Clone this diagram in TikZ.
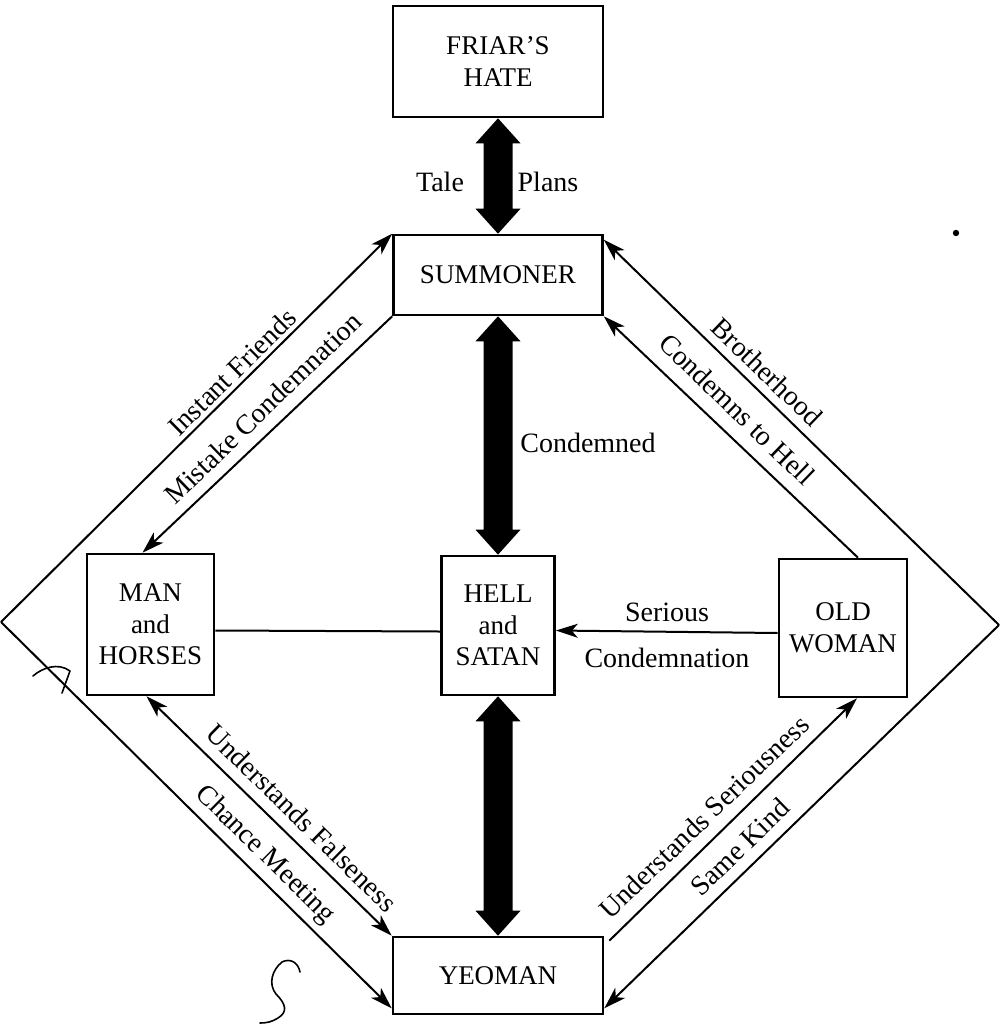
\documentclass[tikz,border=0pt]{standalone}
\usepackage{fontspec}
\setmainfont{Liberation Serif}
\usetikzlibrary{arrows.meta,calc}
\begin{document}
\begin{tikzpicture}[x=0.5pt,y=-0.5pt,
  box/.style={draw, line width=1.3pt, inner sep=0pt, align=center,
    font=\fontsize{13.5}{15.75}\selectfont},
  conn/.style={line width=1pt},
  onehead/.style={-{Stealth[length=11pt,width=7pt,inset=3pt]}},
  twoheads/.style={{Stealth[length=11pt,width=7pt,inset=3pt]}-{Stealth[length=11pt,width=7pt,inset=3pt]}},
  lbl/.style={inner sep=0pt, font=\fontsize{14}{16}\selectfont},
  scrawl/.style={line width=0.8pt, line cap=round, line join=round},
]
\useasboundingbox (0,0) rectangle (1000,1024);

% heavy two-headed arrow between two anchors (vertical)
\newcommand{\heavyarrow}[2]{%
  \fill let \p1=(#1), \p2=(#2) in
    (\x1,\y1) -- (\x1+11.25pt,\y1-12.5pt) -- (\x1+7.25pt,\y1-12.5pt)
    -- (\x1+7.25pt,\y2+12.5pt) -- (\x1+11.25pt,\y2+12.5pt) -- (\x2,\y2)
    -- (\x1-11.25pt,\y2+12.5pt) -- (\x1-7.25pt,\y2+12.5pt)
    -- (\x1-7.25pt,\y1-12.5pt) -- (\x1-11.25pt,\y1-12.5pt) -- cycle;}

% boxes
\node[box, minimum width=105pt,  minimum height=55.5pt] (fri)  at (498,61.5)   {FRIAR'S\\HATE};
\node[box, minimum width=104.5pt,minimum height=40pt]   (sum)  at (498,275)    {SUMMONER};
\node[box, minimum width=63.5pt, minimum height=70.5pt] (man)  at (150.5,624.5){MAN\\and\\HORSES};
\node[box, minimum width=56.5pt, minimum height=69.5pt] (hell) at (498,625.5)  {HELL\\and\\SATAN};
\node[box, minimum width=64pt,   minimum height=69pt]   (old)  at (843,628)    {OLD\\WOMAN};
\node[box, minimum width=105pt,  minimum height=38.5pt] (yeo)  at (498,975.5)  {YEOMAN};

% outer corners of the diamond
\coordinate (L) at (1,622);
\coordinate (R) at (999,625);

% heavy vertical arrows
\heavyarrow{fri.south}{sum.north}
\heavyarrow{sum.south}{hell.north}
\heavyarrow{hell.south}{yeo.north}

% connectors
\draw[conn,onehead] (L) -- (sum.north west);
\draw[conn,onehead] (R) -- ([yshift=-3pt]sum.north east);
\draw[conn,onehead] (sum.south west) -- ([xshift=-4pt]man.north);
\draw[conn,onehead] ([xshift=7.5pt]old.north) -- (sum.south east);
\draw[conn] ([yshift=-3pt]man.east) -- ([yshift=-3pt]hell.west);
\draw[conn,onehead] ([yshift=-2.5pt]old.west) -- ([yshift=-2.5pt]hell.east);
\draw[conn,twoheads] ([xshift=-2pt]man.south) -- (yeo.north west);
\draw[conn,onehead] (L) -- ([yshift=3.5pt]yeo.south west);
\draw[conn,onehead] ([shift={(2.5pt,-2.5pt)}]yeo.north east) -- ([xshift=7pt]old.south);
\draw[conn,onehead] (R) -- ([yshift=3.5pt]yeo.south east);

% labels
\node[lbl] (ltale)  at (440,182) {Tale};
\node[lbl] (lplans) at (548,182) {Plans};
\node[lbl] (lcond)  at (588,443) {Condemned};
\node[lbl] (lser)   at (667,612) {Serious};
\node[lbl] (lsercd) at (667,658) {Condemnation};
\node[lbl, rotate=44.5]  (lif)  at (232,372) {Instant Friends};
\node[lbl, rotate=44]    (lmc)  at (263,408) {Mistake Condemnation};
\node[lbl, rotate=-44]   (lbro) at (767,372) {Brotherhood};
\node[lbl, rotate=-44]   (lcth) at (737,409) {Condemns to Hell};
\node[lbl, rotate=-44.4] (luf)  at (302,818) {Understands Falseness};
\node[lbl, rotate=-44.6] (lcm)  at (265,855) {Chance Meeting};
\node[lbl, rotate=44]    (lus)  at (704,817) {Understands Seriousness};
\node[lbl, rotate=44.2]  (lsk)  at (740,847) {Same Kind};

% pen marks
\draw[scrawl] (33,676) .. controls (42,668) and (58,662) .. (70,671) -- (62,693);
\draw[scrawl] (300,972) .. controls (298,962) and (290,958) .. (282,962)
  .. controls (272,970) and (268,984) .. (276,994)
  .. controls (286,1004) and (288,1012) .. (278,1018)
  .. controls (272,1022) and (266,1023) .. (260,1023);
\fill (956,233) circle (1.6pt);
\end{tikzpicture}
\end{document}
